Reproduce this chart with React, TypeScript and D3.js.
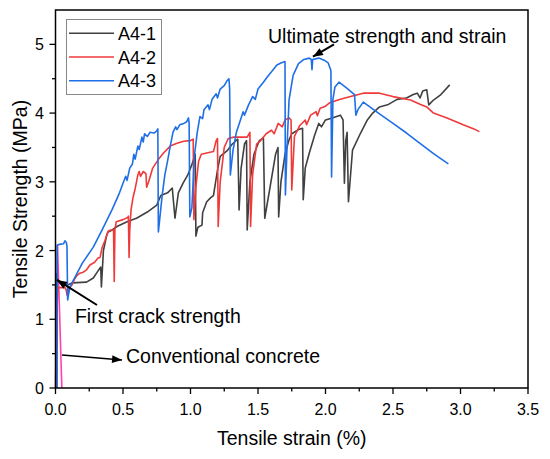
import React from 'react';
import * as d3 from 'd3';

// tensile strain (%) / tensile strength (MPa) pairs
const seriesA41: [number, number][] = [
  [0.004, 0], [0.008, 1.66], [0.02, 1.55], [0.05, 1.5], [0.09, 1.5], [0.122, 1.53], [0.23, 1.54],
  [0.28, 1.6], [0.31, 1.69], [0.335, 1.76], [0.34, 1.47], [0.355, 2.0], [0.38, 2.23], [0.39, 2.27],
  [0.42, 2.3], [0.455, 2.35], [0.53, 2.42], [0.6, 2.47], [0.68, 2.56], [0.75, 2.66], [0.78, 2.8],
  [0.83, 2.84], [0.865, 2.91], [0.885, 2.47], [0.91, 2.84], [0.945, 2.98], [0.98, 3.1], [1.01, 3.25],
  [1.035, 3.4], [1.04, 2.21], [1.055, 2.34], [1.085, 2.37], [1.09, 2.55], [1.12, 2.71], [1.15, 2.77],
  [1.17, 2.8], [1.2, 3.17], [1.22, 3.37], [1.27, 3.45], [1.31, 3.55], [1.35, 3.62], [1.36, 2.59],
  [1.375, 3.2], [1.4, 3.55], [1.415, 3.6], [1.42, 2.3], [1.44, 3.0], [1.47, 3.4], [1.51, 3.6],
  [1.54, 3.64], [1.55, 2.47], [1.59, 2.93], [1.63, 3.4], [1.648, 3.5], [1.653, 2.49], [1.67, 3.0],
  [1.7, 3.4], [1.73, 3.61], [1.75, 3.7], [1.8, 3.76], [1.83, 3.78], [1.835, 2.74], [1.85, 3.2],
  [1.88, 3.42], [1.92, 3.68], [1.95, 3.85], [1.97, 3.8], [2.0, 3.9], [2.05, 3.93], [2.11, 3.97],
  [2.13, 3.9], [2.14, 2.98], [2.15, 3.6], [2.16, 3.72], [2.17, 2.71], [2.2, 3.46], [2.26, 3.71],
  [2.31, 3.9], [2.35, 4.0], [2.4, 4.09], [2.46, 4.12], [2.53, 4.2], [2.6, 4.22], [2.65, 4.27],
  [2.68, 4.29], [2.7, 4.22], [2.72, 4.32], [2.75, 4.34], [2.765, 4.12], [2.8, 4.19], [2.85, 4.26],
  [2.92, 4.41],
];

const seriesA42: [number, number][] = [
  [0.005, 0], [0.012, 1.2], [0.019, 1.46], [0.05, 1.46], [0.07, 1.46], [0.08, 1.42], [0.085, 1.35],
  [0.095, 1.38], [0.1, 1.45], [0.122, 1.5], [0.14, 1.58], [0.16, 1.64], [0.18, 1.67], [0.2, 1.68],
  [0.23, 1.72], [0.255, 1.79], [0.29, 1.83], [0.315, 1.89], [0.33, 1.9], [0.345, 2.04], [0.367, 2.15],
  [0.39, 2.28], [0.41, 2.3], [0.43, 2.3], [0.435, 1.55], [0.44, 2.3], [0.45, 2.42], [0.5, 2.45],
  [0.535, 2.48], [0.54, 2.5], [0.545, 1.9], [0.55, 2.3], [0.56, 2.6], [0.575, 2.78], [0.59, 2.9],
  [0.6, 3.0], [0.61, 3.1], [0.62, 3.15], [0.63, 3.08], [0.65, 3.15], [0.67, 3.12], [0.675, 2.92],
  [0.69, 3.0], [0.72, 3.2], [0.76, 3.32], [0.8, 3.42], [0.85, 3.52], [0.9, 3.56], [0.95, 3.59],
  [1.0, 3.6], [1.02, 3.62], [1.025, 2.45], [1.04, 2.93], [1.06, 3.3], [1.08, 3.4], [1.12, 3.42],
  [1.17, 3.44], [1.19, 3.6], [1.2, 3.63], [1.205, 2.35], [1.22, 3.0], [1.25, 3.5], [1.28, 3.63],
  [1.32, 3.65], [1.42, 3.65], [1.44, 3.72], [1.445, 2.35], [1.46, 3.1], [1.49, 3.55], [1.52, 3.6],
  [1.56, 3.7], [1.6, 3.75], [1.62, 3.7], [1.65, 3.85], [1.68, 3.8], [1.7, 3.9], [1.73, 3.93],
  [1.745, 3.9], [1.75, 2.88], [1.77, 3.66], [1.81, 3.82], [1.85, 3.9], [1.86, 3.83], [1.89, 3.97],
  [1.93, 4.02], [1.94, 3.96], [1.96, 4.07], [2.0, 4.1], [2.03, 4.15], [2.11, 4.2], [2.2, 4.25],
  [2.28, 4.29], [2.4, 4.29], [2.5, 4.24], [2.63, 4.19], [2.7, 4.13], [2.75, 4.09], [2.8, 4.0],
  [2.9, 3.93], [3.02, 3.83], [3.1, 3.77], [3.14, 3.73],
];

const seriesA43: [number, number][] = [
  [0.012, 0], [0.013, 2.08], [0.03, 2.09], [0.06, 2.1], [0.07, 2.14], [0.08, 2.12], [0.085, 2.06],
  [0.09, 1.28], [0.1, 1.4], [0.107, 1.47], [0.16, 1.67], [0.2, 1.82], [0.28, 2.05], [0.35, 2.32],
  [0.42, 2.6], [0.47, 2.82], [0.5, 2.98], [0.52, 3.08], [0.53, 3.02], [0.55, 3.2], [0.57, 3.26],
  [0.58, 3.4], [0.59, 3.33], [0.61, 3.52], [0.62, 3.47], [0.64, 3.65], [0.65, 3.58], [0.66, 3.7],
  [0.68, 3.66], [0.7, 3.72], [0.73, 3.71], [0.75, 3.74], [0.758, 3.77], [0.762, 2.27], [0.77, 2.42],
  [0.79, 2.8], [0.81, 3.1], [0.83, 3.3], [0.85, 3.52], [0.87, 3.72], [0.89, 3.8], [0.9, 3.76],
  [0.92, 3.83], [0.95, 3.85], [0.97, 3.87], [0.985, 3.93], [0.99, 3.85], [0.995, 2.49], [1.01, 2.62],
  [1.03, 3.4], [1.05, 3.72], [1.07, 3.95], [1.09, 3.92], [1.1, 4.05], [1.13, 4.12], [1.14, 4.05],
  [1.16, 4.2], [1.19, 4.28], [1.2, 4.22], [1.22, 4.35], [1.25, 4.4], [1.27, 4.47], [1.285, 4.5],
  [1.29, 4.35], [1.295, 3.1], [1.315, 3.46], [1.34, 3.72], [1.37, 3.9], [1.39, 4.02], [1.4, 3.97],
  [1.43, 4.12], [1.46, 4.24], [1.48, 4.2], [1.5, 4.35], [1.54, 4.45], [1.57, 4.53], [1.6, 4.6],
  [1.64, 4.7], [1.67, 4.73], [1.7, 4.75], [1.703, 2.81], [1.715, 3.5], [1.73, 4.19], [1.76, 4.55],
  [1.8, 4.72], [1.84, 4.78], [1.88, 4.8], [1.895, 4.78], [1.9, 4.63], [1.905, 4.78], [1.95, 4.8],
  [1.99, 4.77], [2.02, 4.73], [2.04, 4.62], [2.045, 3.07], [2.055, 4.2], [2.07, 4.38], [2.1, 4.45],
  [2.16, 4.36], [2.215, 4.27], [2.225, 3.97], [2.24, 4.05], [2.28, 4.16], [2.4, 3.99], [2.5, 3.85],
  [2.6, 3.71], [2.7, 3.56], [2.8, 3.41], [2.91, 3.26],
];

const conventionalConcrete: [number, number][] = [[0.0, 0], [0.015, 2.08], [0.047, 0]];

const seriesNames = ['A4-1', 'A4-2', 'A4-3'];
const seriesColors = ['#404040', '#f03a3a', '#1f6fe6'];
const conventionalColor = '#ff3fb4';

const xTicks = [0, 0.5, 1, 1.5, 2, 2.5, 3, 3.5];
const xMinorTicks = [0.25, 0.75, 1.25, 1.75, 2.25, 2.75, 3.25];
const yTicks = [0, 1, 2, 3, 4, 5];
const yMinorTicks = [0.5, 1.5, 2.5, 3.5, 4.5];

const FONT = 'Arial, "Liberation Sans", sans-serif';

const App: React.FC = () => {
  const width = 550;
  const height = 459;
  const x = d3.scaleLinear().domain([0, 3.5]).range([55.5, 528]);
  const y = d3.scaleLinear().domain([0, 5.5]).range([388, 10]);

  const line = d3.line<[number, number]>()
    .x(d => x(d[0]))
    .y(d => y(d[1]));

  const allSeries = [seriesA41, seriesA42, seriesA43];

  return (
    <svg width={width} height={height} style={{ position: 'absolute', left: 0, top: 0, background: '#fff' }}
      fontFamily={FONT}>
      <defs>
        <marker id="head" viewBox="0 0 10 8" refX="10" refY="4" markerWidth="11" markerHeight="8"
          markerUnits="userSpaceOnUse" orient="auto">
          <path d="M0,0 L10,4 L0,8 Z" fill="#000" />
        </marker>
      </defs>

      {/* series */}
      <path d={line(conventionalConcrete) || ''} fill="none" stroke={conventionalColor} strokeWidth={1.6} />
      {allSeries.map((s, i) => (
        <path key={seriesNames[i]} d={line(s) || ''} fill="none" stroke={seriesColors[i]}
          strokeWidth={1.6} strokeLinejoin="round" />
      ))}

      {/* frame */}
      <rect x={x(0)} y={y(5.5)} width={x(3.5) - x(0)} height={y(0) - y(5.5)} fill="none" stroke="#000" strokeWidth={1.5} />

      {/* x axis ticks */}
      {xTicks.map(t => (
        <g key={'x' + t}>
          <line x1={x(t)} x2={x(t)} y1={y(0)} y2={y(0) + 6} stroke="#000" strokeWidth={1.3} />
          <text x={x(t)} y={415} fontSize={16} textAnchor="middle">{d3.format('.1f')(t)}</text>
        </g>
      ))}
      {xMinorTicks.map(t => (
        <line key={'xm' + t} x1={x(t)} x2={x(t)} y1={y(0)} y2={y(0) + 3.5} stroke="#000" strokeWidth={1.3} />
      ))}

      {/* y axis ticks */}
      {yTicks.map(t => (
        <g key={'y' + t}>
          <line x1={x(0) - 6} x2={x(0)} y1={y(t)} y2={y(t)} stroke="#000" strokeWidth={1.3} />
          <text x={44} y={y(t) + 6} fontSize={16} textAnchor="end">{t}</text>
        </g>
      ))}
      {yMinorTicks.map(t => (
        <line key={'ym' + t} x1={x(0) - 3.5} x2={x(0)} y1={y(t)} y2={y(t)} stroke="#000" strokeWidth={1.3} />
      ))}

      {/* axis titles */}
      <text x={(x(0) + x(3.5)) / 2} y={445} fontSize={19.5} textAnchor="middle">Tensile strain (%)</text>
      <text transform={`translate(27,${(y(0) + y(5.5)) / 2}) rotate(-90)`} fontSize={19.5} textAnchor="middle">
        Tensile Strength (MPa)
      </text>

      {/* legend */}
      <rect x={66.5} y={19.5} width={95} height={75} fill="#fff" stroke="#888" strokeWidth={1} />
      {seriesNames.map((n, i) => (
        <g key={'lg' + n}>
          <line x1={69} x2={114} y1={33.3 + i * 23.7} y2={33.3 + i * 23.7} stroke={seriesColors[i]} strokeWidth={1.6} />
          <text x={118} y={33.3 + i * 23.7 + 6.5} fontSize={18}>{n}</text>
        </g>
      ))}

      {/* annotations */}
      <text x={x(1.574)} y={y(5.02)} fontSize={19.5}>Ultimate strength and strain</text>
      <line x1={x(2.063)} y1={y(5.0)} x2={x(1.907)} y2={y(4.82)} stroke="#000" strokeWidth={2} markerEnd="url(#head)" />

      <text x={x(0.144)} y={y(0.946)} fontSize={19.5}>First crack strength</text>
      <line x1={x(0.307)} y1={y(1.208)} x2={x(0.011)} y2={y(1.572)} stroke="#000" strokeWidth={2} markerEnd="url(#head)" />

      <text x={x(0.522)} y={y(0.364)} fontSize={19.5}>Conventional concrete</text>
      <line x1={x(0.048)} y1={y(0.48)} x2={x(0.493)} y2={y(0.408)} stroke="#000" strokeWidth={1.5} markerEnd="url(#head)" />
    </svg>
  );
};

export default App;
